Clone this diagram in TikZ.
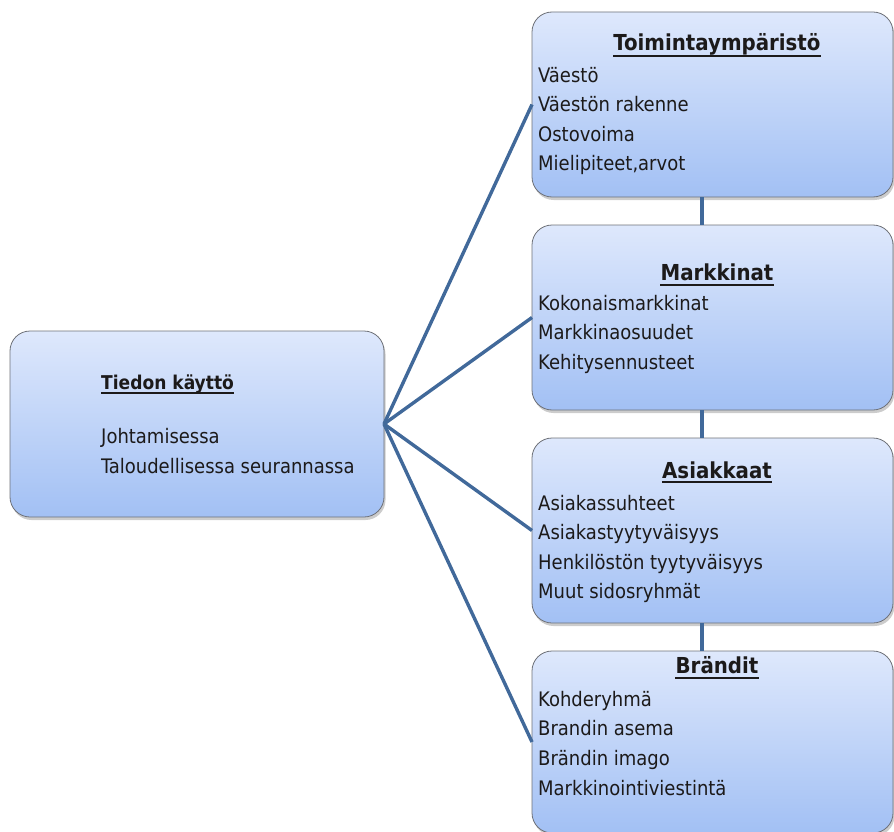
\documentclass[tikz,border=0pt]{standalone}
\usepackage{fontspec}
\setmainfont{DejaVu Sans Condensed}
\usetikzlibrary{shadows,calc}
\definecolor{linec}{HTML}{41699A}
\definecolor{topc}{HTML}{DEE8FC}
\definecolor{botc}{HTML}{A2C0F4}
\definecolor{edgec}{HTML}{6E7178}
\definecolor{txt}{HTML}{1C1A1A}
\begin{document}
\begin{tikzpicture}[x=1pt,y=-1pt,
  box/.style={draw=edgec, line width=0.8pt, rounded corners=20pt, inner sep=0pt, outer sep=0pt,
    top color=topc, bottom color=botc,
    drop shadow={shadow xshift=1.5pt,shadow yshift=-3pt,opacity=0.4}},
  rbox/.style={box, minimum width=361pt, minimum height=185pt},
  conn/.style={draw=linec, line width=3.4pt},
  body/.style={anchor=base west, inner sep=0pt, text=txt, font=\fontsize{20}{24}\selectfont},
  ttl/.style={anchor=base, inner sep=0pt, text=txt, font=\bfseries\fontsize{22}{26}\selectfont},
  ltl/.style={anchor=base west, inner sep=0pt, text=txt, font=\bfseries\fontsize{19}{22}\selectfont},
  uline/.style={draw=txt, line width=2pt},
]
\useasboundingbox (0,0) rectangle (894,832);
% boxes
\node[box, minimum width=374pt, minimum height=186pt] (L) at (197,424) {};
\node[rbox] (B1) at (712.5,104.5) {};
\node[rbox] (B2) at (712.5,317.5) {};
\node[rbox] (B3) at (712.5,530.5) {};
\node[rbox, minimum height=182pt] (B4) at (712.5,742) {};
\coordinate (vx) at (702,0);
% connectors
\draw[conn] (L.east) -- (B1.west);
\draw[conn] (L.east) -- (B2.west);
\draw[conn] (L.east) -- (B3.west);
\draw[conn] (L.east) -- (B4.west);
\draw[conn] (B1.south -| vx) -- (B2.north -| vx);
\draw[conn] (B2.south -| vx) -- (B3.north -| vx);
\draw[conn] (B3.south -| vx) -- (B4.north -| vx);
% left box text
\node[ltl] (LT) at (101,389) {Tiedon käyttö};
\draw[uline] ($(LT.base west)+(0,4)$) -- ($(LT.base east)+(0,4)$);
\node[body] (L1) at (101,443) {Johtamisessa};
\node[body] (L2) at (101,473) {Taloudellisessa seurannassa};
% box 1
\node[ttl] (T1) at (717,51) {Toimintaympäristö};
\draw[uline] ($(T1.base west)+(0,5)$) -- ($(T1.base east)+(0,5)$);
\node[body] (a1) at (538,83) {Väestö};
\node[body] (a2) at (538,112) {Väestön rakenne};
\node[body] (a3) at (538,142) {Ostovoima};
\node[body] (a4) at (538,171) {Mielipiteet,arvot};
% box 2
\node[ttl] (T2) at (717,280) {Markkinat};
\draw[uline] ($(T2.base west)+(0,5)$) -- ($(T2.base east)+(0,5)$);
\node[body] (b1) at (538,310) {Kokonaismarkkinat};
\node[body] (b2) at (538,339) {Markkinaosuudet};
\node[body] (b3) at (538,369) {Kehitysennusteet};
% box 3
\node[ttl] (T3) at (717,478) {Asiakkaat};
\draw[uline] ($(T3.base west)+(0,4)$) -- ($(T3.base east)+(0,4)$);
\node[body] (c1) at (538,510) {Asiakassuhteet};
\node[body] (c2) at (538,539) {Asiakastyytyväisyys};
\node[body] (c3) at (538,569) {Henkilöstön tyytyväisyys};
\node[body] (c4) at (538,598) {Muut sidosryhmät};
% box 4
\node[ttl] (T4) at (717,673) {Brändit};
\draw[uline] ($(T4.base west)+(0,5)$) -- ($(T4.base east)+(0,5)$);
\node[body] (d1) at (538,706) {Kohderyhmä};
\node[body] (d2) at (538,735) {Brandin asema};
\node[body] (d3) at (538,765) {Brändin imago};
\node[body] (d4) at (538,795) {Markkinointiviestintä};
\end{tikzpicture}
\end{document}
